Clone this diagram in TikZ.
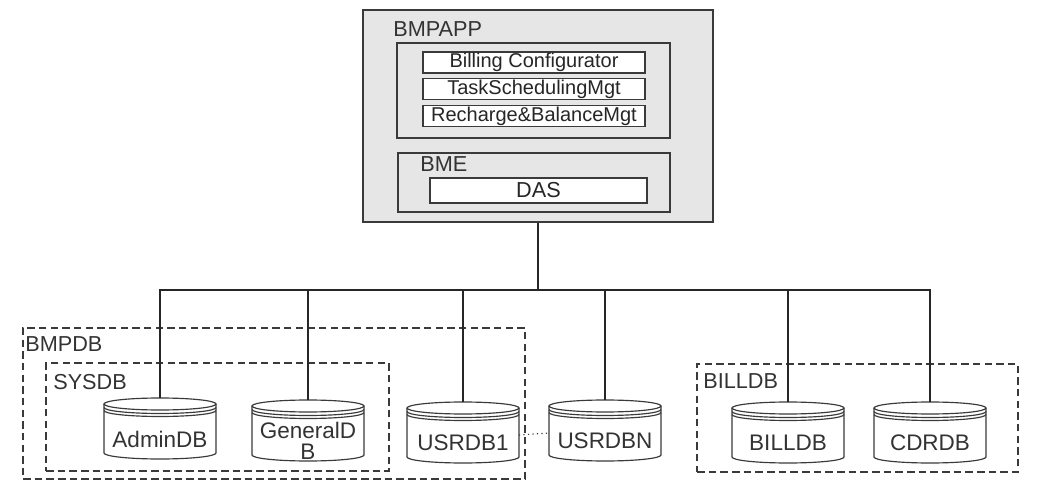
\documentclass[tikz,border=0pt]{standalone}
\usepackage{fontspec}
\setmainfont{Liberation Sans}
\usetikzlibrary{fit,calc}
\definecolor{boxgray}{HTML}{E6E6E6}
\definecolor{linegray}{HTML}{3A3A3A}
\newcommand\px{0.6pt}
\tikzset{
  grp/.style={draw=linegray,line width=0.9pt,fill=boxgray,inner sep=0pt},
  item/.style={draw=linegray,line width=0.9pt,fill=white,inner sep=0pt,text=black!85,
               font=\fontsize{12}{14}\selectfont},
  lbl/.style={font=\fontsize{13}{15}\selectfont,text=black!80,anchor=west,inner sep=0pt},
  dgrp/.style={draw=linegray,line width=0.9pt,dash pattern=on 4.5pt off 2.5pt,inner sep=0pt},
  bus/.style={line width=1.6pt,black!85},
  dbline/.style={line width=0.7pt,draw=linegray},
  dblbl/.style={font=\fontsize{13.5}{12.5}\selectfont,text=black!80,align=center,inner sep=0pt},
}
% database cylinder: name, centre x, top y, label
\newcommand\dbcyl[4]{%
  \begin{scope}[shift={(#2,#3)}]
    \draw[dbline,fill=white] (-56,-6) -- (-56,-55)
      arc[start angle=180,end angle=360,x radius=56,y radius=6] -- (56,-6);
    \draw[dbline,fill=white] (0,-6) ellipse[x radius=56,y radius=6];
    \draw[dbline] (-56,-9.5) arc[start angle=180,end angle=360,x radius=56,y radius=6];
    \draw[dbline] (-56,-12.5) arc[start angle=180,end angle=360,x radius=56,y radius=6];
    \coordinate (#1-top) at (0,0);
    \coordinate (#1-w) at (-56,-33);
    \coordinate (#1-e) at (56,-33);
    \node[dblbl] (#1) at (0,-41) {#4};
  \end{scope}}

\begin{document}
\begin{tikzpicture}[x=\px,y=\px]
  \useasboundingbox (0,0) rectangle (1043,-482);

  % application server
  \node[grp,fit={(363,-10) (713,-222)}] (app) {};
  \node[lbl] (applbl) at (393,-29) {BMPAPP};
  \node[grp,fit={(397,-43) (670,-138)}] (mods) {};
  \node[item,minimum width=222*\px,minimum height=21*\px] (billcfg) at (534,-62.5) {Billing Configurator};
  \node[item,minimum width=222*\px,minimum height=21*\px] (tasksch) at (534,-89) {TaskSchedulingMgt};
  \node[item,minimum width=222*\px,minimum height=21*\px] (rechbal) at (534,-116) {Recharge\&BalanceMgt};
  \node[grp,fit={(398,-153) (670,-212)}] (bme) {};
  \node[lbl] (bmelbl) at (420,-164) {BME};
  \node[item,minimum width=217*\px,minimum height=25*\px,font=\fontsize{13}{15}\selectfont] (das) at (538.5,-190.5) {DAS};

  % database groups
  \node[dgrp,fit={(23,-328) (525,-479)}] (bmpdb) {};
  \node[lbl] (bmpdblbl) at (25,-344) {BMPDB};
  \node[dgrp,fit={(46,-363) (389,-471)}] (sysdb) {};
  \node[lbl] (sysdblbl) at (53,-382) {SYSDB};
  \node[dgrp,fit={(697,-364) (1018,-472)}] (billgrp) {};
  \node[lbl] (billgrplbl) at (703,-381) {BILLDB};

  % databases
  \dbcyl{admin}{160}{-398}{AdminDB}
  \dbcyl{general}{308}{-400}{GeneralD\\B}
  \dbcyl{usr1}{463}{-402}{USRDB1}
  \dbcyl{usrn}{605}{-400}{USRDBN}
  \dbcyl{bill}{788}{-402}{BILLDB}
  \dbcyl{cdr}{930}{-402}{CDRDB}

  % connectors
  \coordinate (bus) at (app.south |- 0,-290);
  \draw[bus] (app.south) -- (bus);
  \draw[bus] (admin-top) |- (bus) -| (cdr-top);
  \foreach \d in {general,usr1,usrn,bill}
    \draw[bus] (\d-top) -- (\d-top |- bus);
  \draw[dbline,dotted] (usr1-e) -- (usrn-w);
\end{tikzpicture}
\end{document}
